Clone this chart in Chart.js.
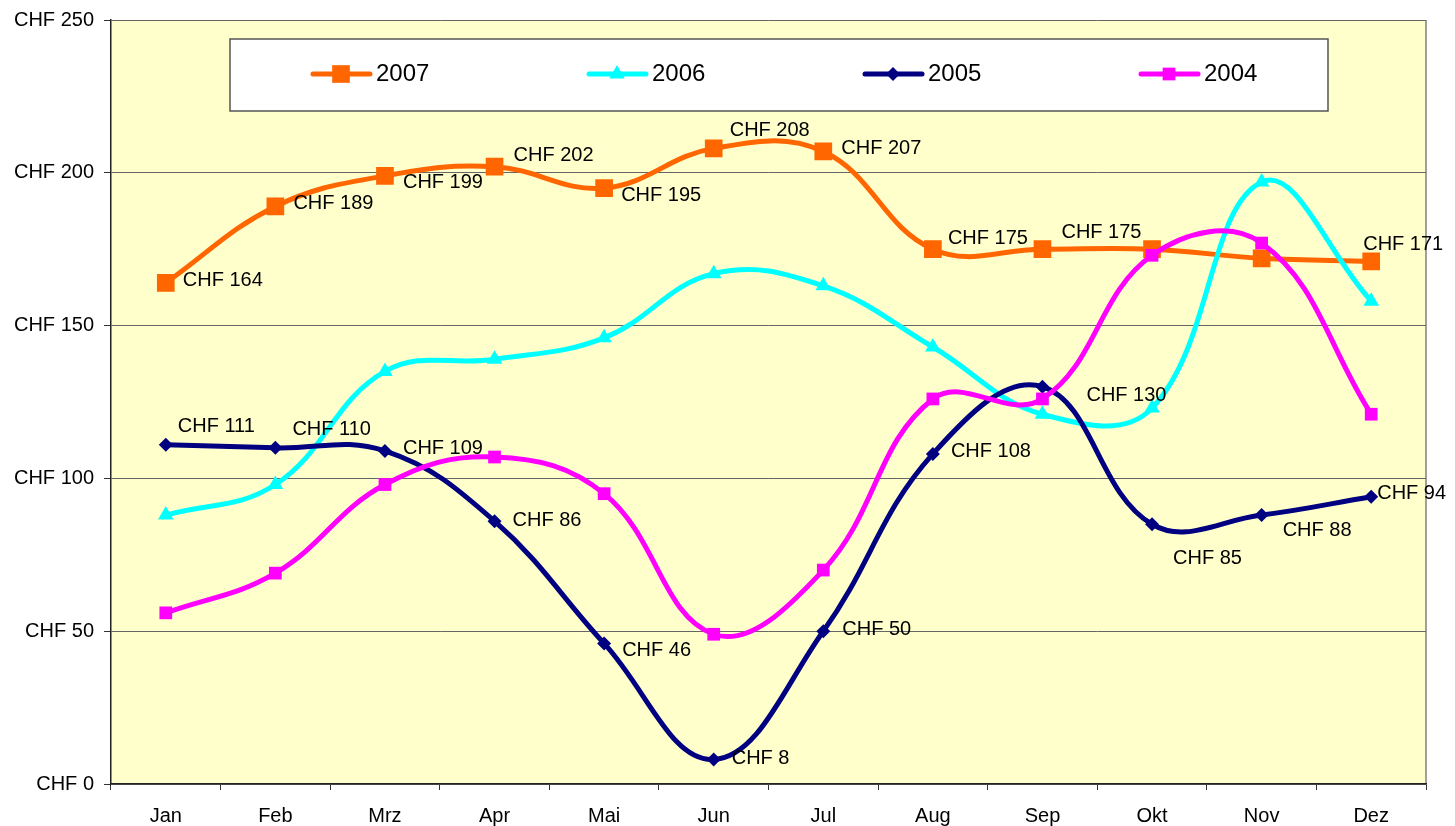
<!DOCTYPE html>
<html>
<head>
<meta charset="utf-8">
<script src="https://cdn.jsdelivr.net/npm/chart.js@4.4.1/dist/chart.umd.min.js"></script>
<style>
  html, body { margin: 0; padding: 0; background: #fff; }
  canvas { display: block; }
</style>
</head>
<body>
<canvas id="preisChart" width="1455" height="826"></canvas>
<script>
// Monate und Werte (CHF)
const months = ['Jan', 'Feb', 'Mrz', 'Apr', 'Mai', 'Jun', 'Jul', 'Aug', 'Sep', 'Okt', 'Nov', 'Dez'];
const values2007 = [164, 189, 199, 202, 195, 208, 207, 175, 175, 175, 172, 171];
const values2006 = [88, 98, 135, 139, 146, 167, 163, 143, 121, 123, 197, 158];
const values2005 = [111, 110, 109, 86, 46, 8, 50, 108, 130, 85, 88, 94];
const values2004 = [56, 69, 98, 107, 95, 49, 70, 126, 126, 173, 177, 121];
const yTicks = [0, 50, 100, 150, 200, 250];

// where the value labels sit next to their point (null = no label)
const labelPos2007 = [[17, -2], [18, -3], [18, 7], [19, -11], [17, 7], [16, -18], [18, -3], [15, -11], [19, -17], null, null, [-8, -17]];
const labelPos2005 = [[12, -18], [17, -18], [18, -2], [18, -1], [18, 7], [18, -1], [19, -2], [18, -2], [44, 9], [21, 34], [21, 15], [6, -3]];

const FONT = '"Liberation Sans", Arial, sans-serif';

function drawMarker(ctx, style, x, y, r) {
    ctx.beginPath();
    if (style === 'rect') {
        const s = r * Math.SQRT1_2;
        ctx.rect(x - s, y - s, 2 * s, 2 * s);
    } else if (style === 'triangle') {
        ctx.moveTo(x, y - r);
        ctx.lineTo(x + r * Math.cos(Math.PI / 6), y + r / 2);
        ctx.lineTo(x - r * Math.cos(Math.PI / 6), y + r / 2);
        ctx.closePath();
    } else {
        ctx.moveTo(x, y - r);
        ctx.lineTo(x + r, y);
        ctx.lineTo(x, y + r);
        ctx.lineTo(x - r, y);
        ctx.closePath();
    }
    ctx.fill();
}

const backgroundPlugin = {
    id: 'plotBackground',
    beforeDraw(chart) {
        const { ctx, chartArea: a } = chart;
        ctx.save();
        ctx.fillStyle = '#ffffff';
        ctx.fillRect(0, 0, chart.width, chart.height);
        ctx.fillStyle = '#FFFFCC';
        ctx.fillRect(a.left, a.top, a.right - a.left, a.bottom - a.top);
        ctx.strokeStyle = '#808080';
        ctx.lineWidth = 1.5;
        ctx.beginPath();
        ctx.moveTo(a.right, a.top);
        ctx.lineTo(a.right, a.bottom);
        ctx.stroke();
        ctx.restore();
    }
};

const legendPlugin = {
    id: 'boxLegend',
    beforeDatasetsDraw(chart) {
        const { ctx, chartArea: a } = chart;
        const left = a.left + 119, top = a.top + 19, w = 1098, h = 72;
        ctx.save();
        ctx.fillStyle = '#ffffff';
        ctx.fillRect(left, top, w, h);
        ctx.strokeStyle = '#555';
        ctx.lineWidth = 1.5;
        ctx.strokeRect(left, top, w, h);
        const cy = top + h / 2 - 1;
        chart.data.datasets.forEach((ds, i) => {
            const x0 = left + 83 + i * 276;
            ctx.strokeStyle = ds.borderColor;
            ctx.lineWidth = 5;
            ctx.lineCap = 'round';
            ctx.beginPath();
            ctx.moveTo(x0, cy);
            ctx.lineTo(x0 + 57, cy);
            ctx.stroke();
            ctx.fillStyle = ds.pointBackgroundColor;
            drawMarker(ctx, ds.pointStyle, x0 + 28, cy, ds.pointRadius);
            ctx.fillStyle = '#000';
            ctx.font = '24px ' + FONT;
            ctx.textBaseline = 'middle';
            ctx.textAlign = 'left';
            ctx.fillText(ds.label, x0 + 63, cy);
        });
        ctx.restore();
    }
};

const valueLabelPlugin = {
    id: 'valueLabels',
    afterDatasetsDraw(chart) {
        const { ctx } = chart;
        ctx.save();
        ctx.font = '20px ' + FONT;
        ctx.fillStyle = '#000';
        ctx.textBaseline = 'middle';
        ctx.textAlign = 'left';
        chart.data.datasets.forEach((ds, i) => {
            if (!ds.labelPos) return;
            const meta = chart.getDatasetMeta(i);
            meta.data.forEach((pt, j) => {
                const off = ds.labelPos[j];
                if (!off) return;
                ctx.fillText('CHF ' + ds.data[j], pt.x + off[0], pt.y + off[1]);
            });
        });
        ctx.restore();
    }
};

function series(label, data, color, style, radius, order, labelPos) {
    return {
        label: label,
        data: data,
        borderColor: color,
        backgroundColor: color,
        pointBackgroundColor: color,
        pointBorderColor: color,
        pointBorderWidth: 0,
        pointStyle: style,
        pointRadius: radius,
        pointHoverRadius: radius,
        borderWidth: 5,
        tension: 0.4,
        fill: false,
        order: order,
        labelPos: labelPos
    };
}

new Chart(document.getElementById('preisChart'), {
    type: 'line',
    data: {
        labels: months,
        datasets: [
            series('2007', values2007, '#FF6600', 'rect', 12.5, 3, labelPos2007),
            series('2006', values2006, '#00FFFF', 'triangle', 9, 2, null),
            series('2005', values2005, '#000080', 'rectRot', 7, 1, labelPos2005),
            series('2004', values2004, '#FF00FF', 'rect', 9, 0, null)
        ]
    },
    options: {
        responsive: false,
        animation: false,
        layout: { padding: { top: 19, right: 29, bottom: 0, left: 0 } },
        plugins: {
            legend: { display: false },
            tooltip: { enabled: false }
        },
        scales: {
            x: {
                offset: true,
                grid: { offset: true, drawOnChartArea: false, tickLength: 6, color: '#333' },
                border: { color: '#222', width: 1.5 },
                ticks: { font: { size: 20, family: FONT }, color: '#000', padding: 14, maxRotation: 0 },
                afterFit(scale) { scale.height = 42; }
            },
            y: {
                min: yTicks[0],
                max: yTicks[yTicks.length - 1],
                afterBuildTicks(scale) { scale.ticks = yTicks.map(v => ({ value: v })); },
                grid: { color: '#666', lineWidth: 1, tickLength: 7, tickColor: '#333' },
                border: { color: '#222', width: 1.5 },
                ticks: {
                    font: { size: 20, family: FONT, lineHeight: 1 },
                    color: '#000',
                    padding: 10,
                    callback: v => 'CHF ' + v
                },
                afterFit(scale) { scale.width = 111; }
            }
        }
    },
    plugins: [backgroundPlugin, legendPlugin, valueLabelPlugin]
});
</script>
</body>
</html>
